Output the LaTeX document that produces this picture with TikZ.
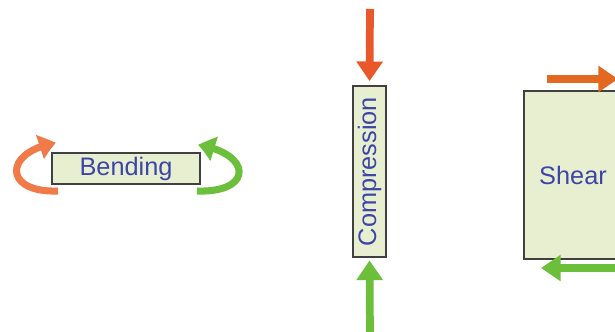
\documentclass[tikz,border=0pt]{standalone}
\usepackage{fontspec}
\setmainfont{Liberation Sans}
\usepackage{xcolor}
\usetikzlibrary{arrows.meta, bending, calc}

\definecolor{boxfill}{HTML}{E8EFD0}
\definecolor{boxtext}{HTML}{3C45A8}
\definecolor{pushred}{HTML}{E8582A}
\definecolor{bendorange}{HTML}{F07A48}
\definecolor{shearorange}{HTML}{E2691F}
\definecolor{pushgreen}{HTML}{6CBF3A}

\begin{document}
\begin{tikzpicture}[
			x=0.025cm, y=0.025cm,
			load/.style={rectangle, draw=black!75, fill=boxfill, text=boxtext, inner sep=0pt, line width=0.8pt, font=\fontsize{18}{20}\selectfont},
			force/.style={-{Triangle[length=14pt, width=18pt]}, line width=5.5pt},
			twist/.style={-{Triangle[length=12pt, width=17pt, bend]}, line width=5pt}
		]
		
		\useasboundingbox (0,0) rectangle (615,331);
		
		% Load cases
		\node[load, minimum width=3.7cm, minimum height=0.775cm] (bend) at (126,162.5) {Bending};
		\node[load, minimum width=4.275cm, minimum height=0.825cm, rotate=90] (comp) at (369.5,159.5) {Compression};
		\node[load, minimum width=2.45cm, minimum height=4.2cm] (shear) at (573,156) {Shear};
		
		% Free ends of the forces
		\coordinate (ctop) at (370,322);
		\coordinate (cbot) at (370,-5);
		\coordinate (stop) at (547,252);
		\coordinate (sbot) at (640,63);
		\coordinate (lstart) at (58,140);
		\coordinate (lend) at (56,188);
		\coordinate (rstart) at (197,140);
		\coordinate (rend) at (198,186);
		
		% Bending
		\draw[twist, bendorange] (lstart) .. controls (2,138) and (4,180) .. (lend);
		\draw[twist, pushgreen] (rstart) .. controls (254,138) and (252,178) .. (rend);
		
		% Compression
		\draw[force, pushred, shorten >=3pt] (ctop) -- (comp.east);
		\draw[force, pushgreen, shorten >=2pt] (cbot) -- (comp.west);
		
		% Shear
		\draw[force, shearorange] (stop) -- (stop -| 618,0);
		\draw[force, pushgreen] (sbot) -- (sbot -| 541,0);
		
		\end{tikzpicture}
\end{document}
